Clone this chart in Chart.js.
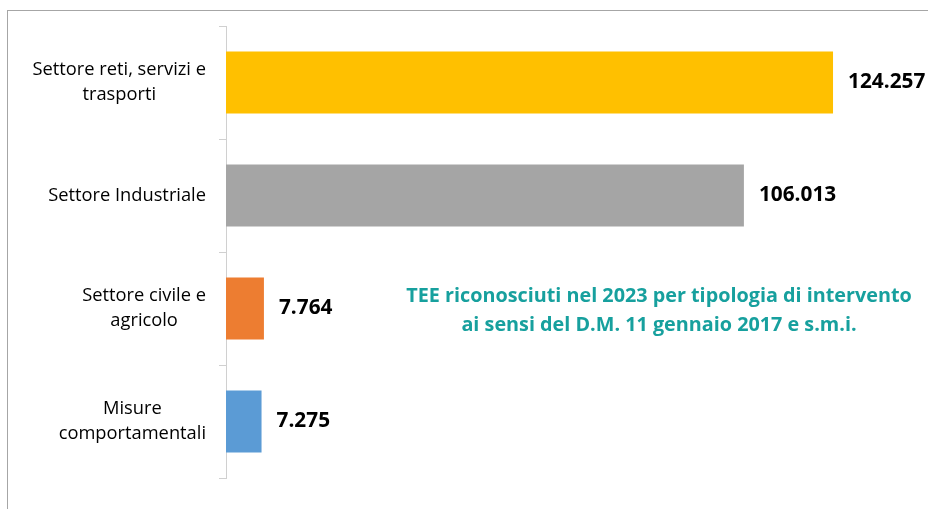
<!DOCTYPE html>
<html lang="it">
<head>
<meta charset="UTF-8">
<title>TEE riconosciuti 2023</title>
<script src="https://cdn.jsdelivr.net/npm/chart.js"></script>
<style>
    body { margin: 0; background: white; }
    .cornice { position: absolute; left: 7px; top: 10px; right: 0; bottom: 0; border-left: 1px solid #a6a6a6; border-top: 1px solid #a6a6a6; }
    .grafico { position: absolute; left: 0; top: 0; width: 928px; height: 509px; }
</style>
</head>
<body>
<div class="cornice"></div>
<div class="grafico"><canvas id="tee" width="928" height="509"></canvas></div>
<script>
    const categorie = [
        ["Settore reti, servizi e", "trasporti"],
        ["Settore Industriale"],
        ["Settore civile e", "agricolo"],
        ["Misure", "comportamentali"]
    ];
    const valori = [124257, 106013, 7764, 7275];
    const colori = ['#FFC000', '#A5A5A5', '#ED7D31', '#5B9BD5'];
    const titolo = [
        "TEE riconosciuti nel 2023 per tipologia di intervento",
        "ai sensi del D.M. 11 gennaio 2017 e s.m.i."
    ];

    // formato italiano: 124257 -> 124.257
    function formatta(v) {
        return String(v).replace(/\B(?=(\d{3})+(?!\d))/g, '.');
    }

    const FONT = '"Open Sans", "Liberation Sans", sans-serif';

    // etichette delle categorie: blocco allineato a destra, righe centrate
    const etichetteCategorie = {
        id: 'etichetteCategorie',
        afterDraw(chart) {
            const ctx = chart.ctx;
            const y = chart.scales.y;
            ctx.save();
            ctx.font = '18.3px ' + FONT;
            ctx.fillStyle = '#000';
            ctx.textAlign = 'center';
            ctx.textBaseline = 'middle';
            categorie.forEach(function (righe, i) {
                const cy = y.getPixelForTick(i);
                const larghezza = Math.max(...righe.map(r => ctx.measureText(r).width));
                const cx = 206 - larghezza / 2;
                righe.forEach(function (r, j) {
                    ctx.fillText(r, cx, cy + (j - (righe.length - 1) / 2) * 25);
                });
            });
            ctx.restore();
        }
    };

    // valori accanto alle barre + titolo in mezzo
    const valoriETitolo = {
        id: 'valoriETitolo',
        afterDatasetsDraw(chart) {
            const ctx = chart.ctx;
            const meta = chart.getDatasetMeta(0);
            ctx.save();
            ctx.font = 'bold 20.8px ' + FONT;
            ctx.fillStyle = '#000';
            ctx.textAlign = 'left';
            ctx.textBaseline = 'middle';
            meta.data.forEach(function (bar, i) {
                ctx.fillText(formatta(valori[i]), bar.x + 15, bar.y);
            });

            ctx.font = 'bold 19.8px ' + FONT;
            ctx.fillStyle = '#17A09E';
            ctx.textAlign = 'center';
            titolo.forEach(function (riga, j) {
                ctx.fillText(riga, 659, 296 + j * 29);
            });
            ctx.restore();
        }
    };

    new Chart(document.getElementById('tee'), {
        type: 'bar',
        data: {
            labels: categorie,
            datasets: [{
                data: valori,
                backgroundColor: colori,
                barPercentage: 0.55,
                categoryPercentage: 1
            }]
        },
        options: {
            indexAxis: 'y',
            responsive: false,
            animation: false,
            layout: { padding: { top: 26, bottom: 31, left: 0, right: 10 } },
            plugins: {
                legend: { display: false },
                tooltip: { enabled: false }
            },
            scales: {
                x: { display: false, min: 0, max: 141650 },
                y: {
                    afterFit: function (scale) { scale.width = 226; },
                    ticks: { display: false },
                    grid: { drawOnChartArea: false, drawTicks: true, tickLength: 7, color: '#d0d0d0', offset: true },
                    border: { color: '#d0d0d0' }
                }
            }
        },
        plugins: [etichetteCategorie, valoriETitolo]
    });
</script>
</body>
</html>
